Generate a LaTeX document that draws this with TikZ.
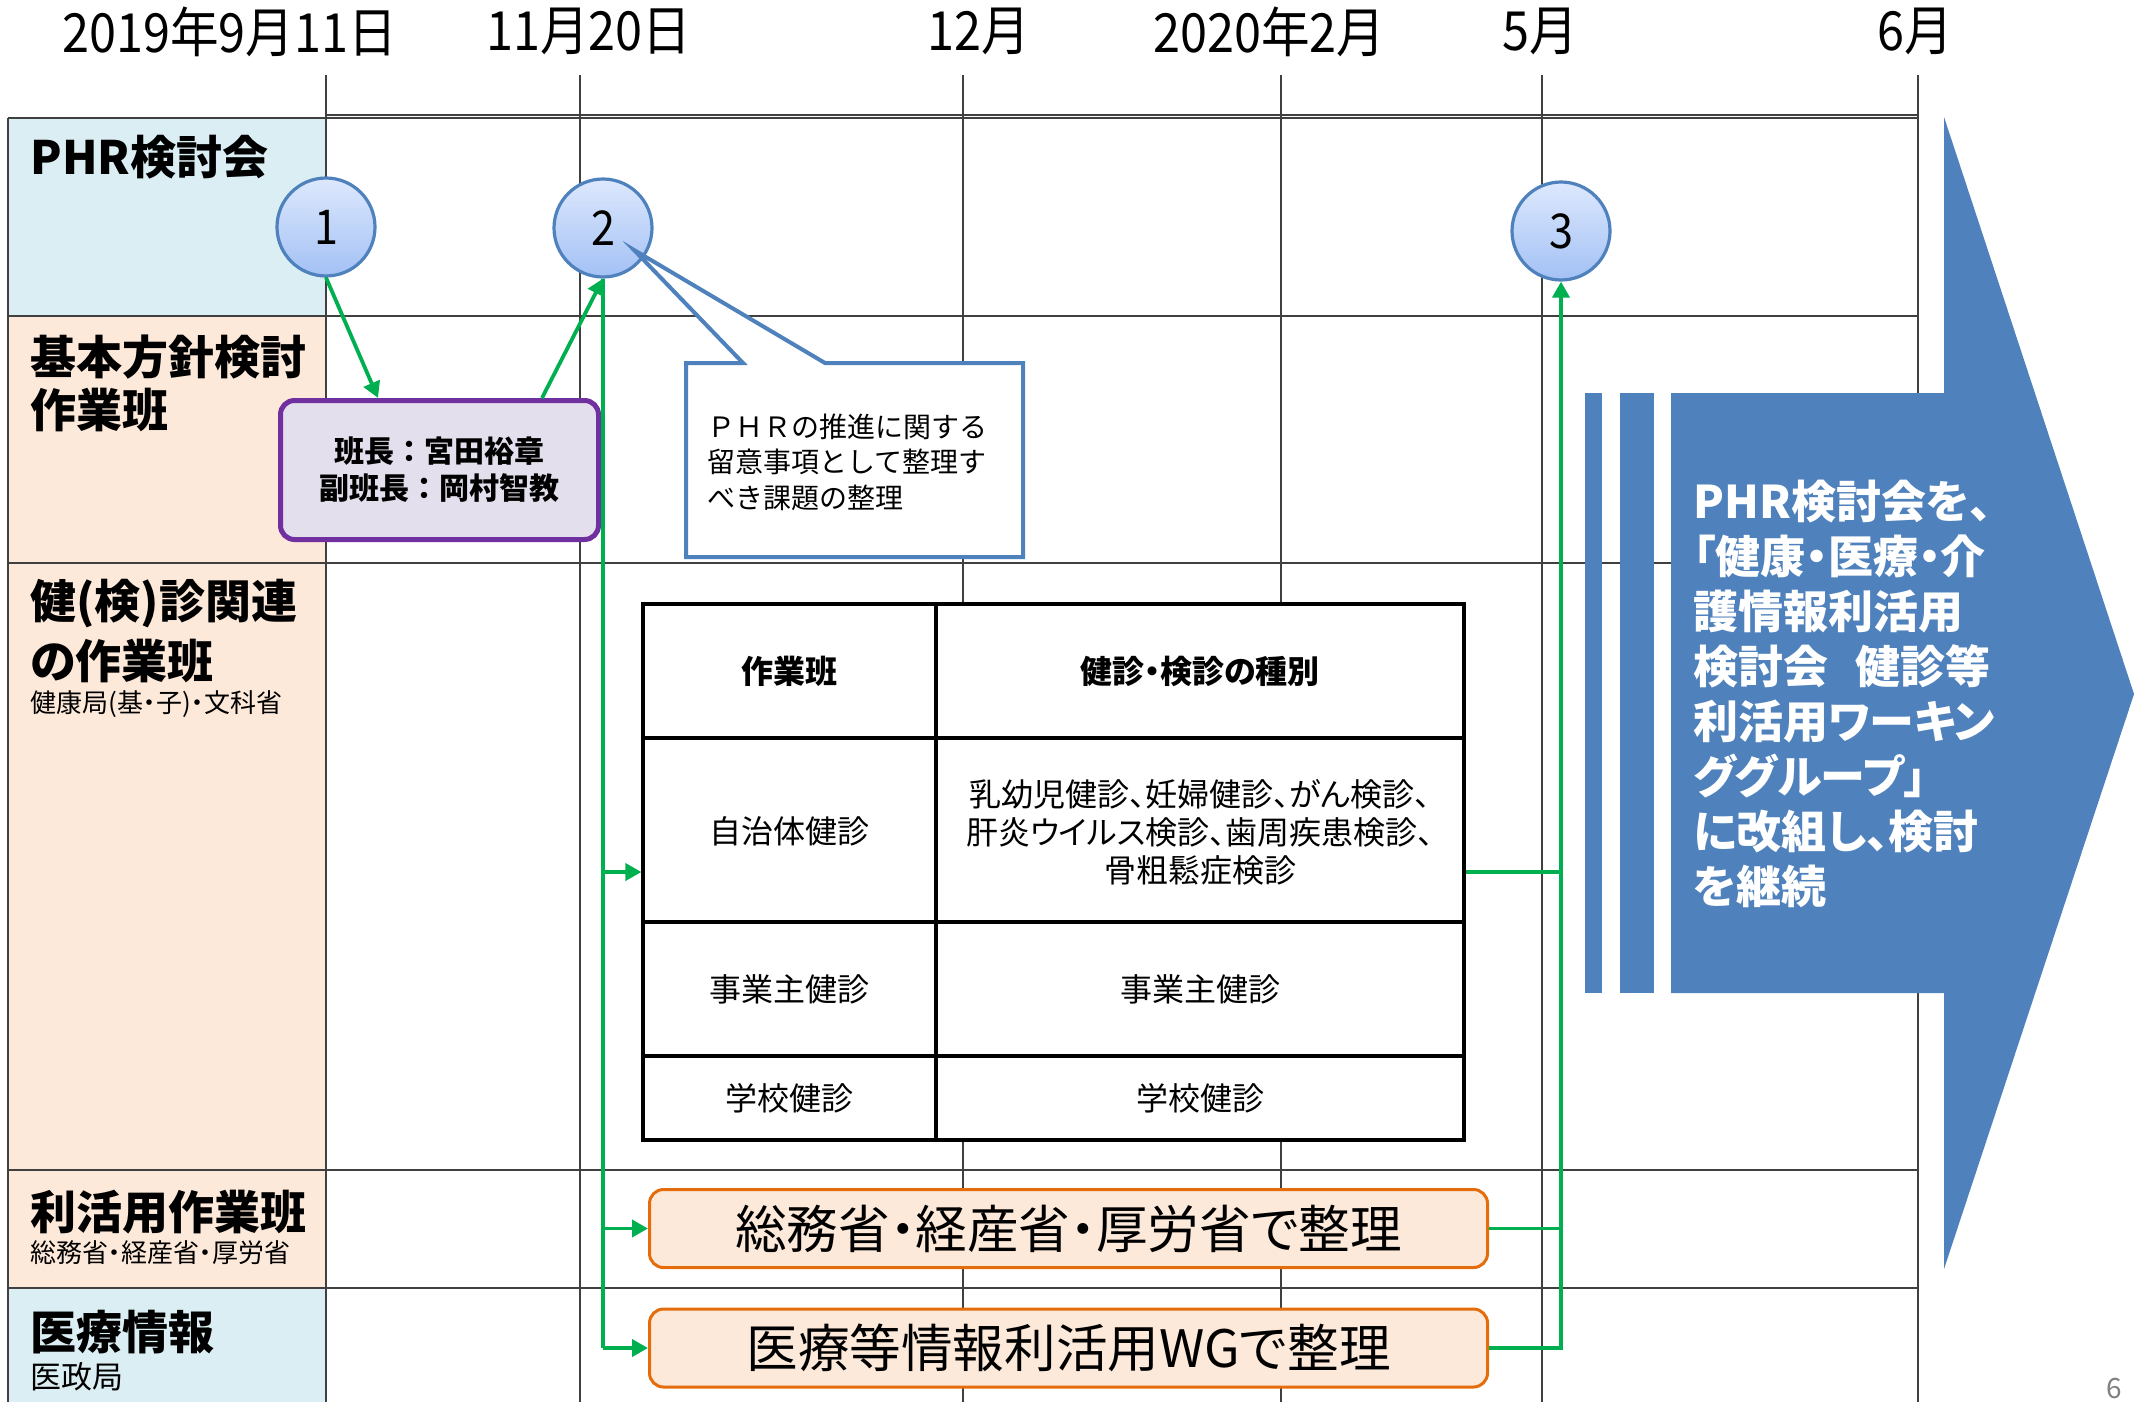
\documentclass[tikz,border=0pt]{standalone}
\usepackage{fontspec}
\setmainfont{Noto Sans CJK JP}[RawFeature=+palt]
\newfontfamily\jpfull{Noto Sans CJK JP}
\newfontfamily\datefont{Noto Sans CJK JP}[FakeStretch=0.9]
\usetikzlibrary{arrows.meta,calc}
\definecolor{lblue}{HTML}{DAEEF3}
\definecolor{peach}{HTML}{FDE9D9}
\definecolor{accblue}{HTML}{4F81BD}
\definecolor{ggreen}{HTML}{00B050}
\definecolor{purp}{HTML}{7030A0}
\definecolor{lav}{HTML}{E4DFEC}
\definecolor{orng}{HTML}{E46C0A}
\definecolor{ctop}{HTML}{DDE8FD}
\definecolor{cbot}{HTML}{A3C1F5}
\definecolor{gridc}{HTML}{404040}
\newcommand\fsz[2]{\fontsize{#1pt}{#2pt}\selectfont}
\tikzset{
  gridline/.style={draw=gridc, line width=0.65pt},
  lbl/.style={anchor=west, inner sep=0pt, font=\bfseries\fsz{23}{27}},
  sublbl/.style={anchor=west, inner sep=0pt, font=\fsz{13}{16}},
  datelbl/.style={inner sep=0pt, font=\datefont\fsz{27}{30}},
  numcircle/.style={circle, minimum size=49pt, inner sep=0pt, draw=accblue, line width=1.6pt, top color=ctop, bottom color=cbot, font=\datefont\fsz{24}{26}},
  gline/.style={draw=ggreen, line width=1.9pt},
  garrow/.style={gline, -{Triangle[length=8pt,width=8.5pt]}},
  cell/.style={inner sep=0pt, font=\fsz{16}{19}, align=center},
  hcell/.style={inner sep=0pt, font=\bfseries\fsz{16}{19}, align=center},
  obox/.style={draw=orng, line width=1.5pt, fill=peach, rounded corners=7pt, minimum width=419pt, minimum height=39pt, inner sep=0pt, font=\fsz{25.8}{28}},
  tblline/.style={draw=black, line width=1.6pt}
}
\begin{document}
\begin{tikzpicture}[x=0.5pt,y=-0.5pt]
\useasboundingbox (0,0) rectangle (2134,1402);
% left column fills
\fill[lblue] (8,118) rectangle (326,316);
\fill[peach] (8,316) rectangle (326,1288);
\fill[lblue] (8,1288) rectangle (326,1402);
% grid
\foreach \x in {326,580,963,1281,1542,1918} \draw[gridline] (\x,75) -- (\x,1402);
\draw[gridline] (326,115) -- (1918,115);
\draw[gridline] (8,118) -- (1918,118);
\foreach \y in {316,563,1170,1288} \draw[gridline] (8,\y) -- (1918,\y);
\draw[gridline] (8,118) -- (8,1402);
% dates
\node[datelbl] (d1) at (229.7,31.5) {2019年9月11日};
\node[datelbl] (d2) at (588.6,31.5) {11月20日};
\node[datelbl] (d3) at (978.6,31.5) {12月};
\node[datelbl] (d4) at (1269.4,31.5) {2020年2月};
\node[datelbl] (d5) at (1540.5,31.5) {5月};
\node[datelbl] (d6) at (1915.7,31.5) {6月};
% left labels
\node[lbl] (l1) at (30,157) {PHR検討会};
\node[lbl] (l2a) at (30,357) {基本方針検討};
\node[lbl] (l2b) at (30,410) {作業班};
\node[lbl] (l3a) at (30,604) {健(検)診関連};
\node[lbl] (l3b) at (30,661) {の作業班};
\node[sublbl] (l3c) at (30,704) {健康局(基・子)・文科省};
\node[lbl] (l4a) at (30,1212) {利活用作業班};
\node[sublbl] (l4b) at (30,1253) {総務省・経産省・厚労省};
\node[lbl] (l5a) at (30,1332) {医療情報};
\node[sublbl, font=\fsz{15.5}{18}] (l5b) at (30,1377) {医政局};
% table
\node[tblline, fill=white, minimum width=410.5pt, minimum height=268pt, inner sep=0pt] (tbl) at (1053.5,872) {};
\draw[tblline] (936,604) -- (936,1140);
\foreach \y in {738,922,1056} \draw[tblline] (643,\y) -- (1464,\y);
\node[hcell] (h1) at (789.5,671) {作業班};
\node[hcell] (h2) at (1200,671) {健診・検診の種別};
\node[cell] (r1a) at (789.5,831) {自治体健診};
\node[cell] (r1b) at (1200,832) {乳幼児健診、妊婦健診、がん検診、\\肝炎ウイルス検診、歯周疾患検診、\\骨粗鬆症検診};
\node[cell] (r2a) at (789.5,989) {事業主健診};
\node[cell] (r2b) at (1200,989) {事業主健診};
\node[cell] (r3a) at (789.5,1098) {学校健診};
\node[cell] (r3b) at (1200,1098) {学校健診};
% purple box
\node[draw=purp, line width=2.5pt, fill=lav, rounded corners=7pt, minimum width=159pt, minimum height=69.5pt, inner sep=0pt, align=center, font=\jpfull\bfseries\fsz{15}{18.5}] (pbox) at (439.5,470) {班長：宮田裕章\\副班長：岡村智教};
% orange boxes
\node[obox] (ob1) at (1068.5,1228.5) {総務省・経産省・厚労省で整理};
\node[obox] (ob2) at (1068.5,1348) {医療等情報利活用WGで整理};
% blue arrow
\fill[accblue] (1585,393) rectangle (1602,993);
\fill[accblue] (1620,393) rectangle (1654,993);
\fill[accblue] (1671,393) -- (1944,393) -- (1944,117) -- (2134,694) -- (1944,1269) -- (1944,993) -- (1671,993) -- cycle;
\node[anchor=west, inner sep=0pt, text=white, align=left, font=\bfseries\fsz{22.5}{27.5}] (bigtxt) at (1693,693.5) {PHR検討会を、\\「健康・医療・介\\護情報利活用\\検討会\hspace{0.6em}健診等\\利活用ワーキン\\ググループ」\\に改組し、検討\\を継続};
% circles
\node[numcircle] (c1) at (326,227) {1};
\node[numcircle] (c2) at (603,228) {2};
\node[numcircle] (c3) at (1561,231) {3};
% green connectors
\draw[garrow] (c1.south) -- ($(pbox.north west)+(100,0)$);
\draw[garrow] ($(pbox.north west)+(264,0)$) -- (c2.south);
\draw[gline] (c2.south) -- (c2.south |- ob2.west);
\draw[garrow] (c2.south |- tbl.west) -- (tbl.west);
\draw[garrow] (c2.south |- ob1.west) -- (ob1.west);
\draw[garrow] (c2.south |- ob2.west) -- (ob2.west);
\draw[gline] (tbl.east) -- (c3.south |- tbl.east);
\draw[gline] (ob1.east) -- (c3.south |- ob1.east);
\draw[garrow, line join=miter] (ob2.east) -- (c3.south |- ob2.east) -- (c3.south);
% callout
\draw[draw=accblue, line width=2pt, fill=white, line join=miter] (686,363) -- (743,363) -- (634,250) -- (825,363) -- (1023,363) -- (1023,557) -- (686,557) -- cycle;
\node[anchor=west, inner sep=0pt, align=left, font=\jpfull\fsz{14}{17.75}] (ctext) at (707,462) {ＰＨＲの推進に関する\\留意事項として整理す\\べき課題の整理};
% page number
\node[text=gray, inner sep=0pt, font=\fsz{14}{16}] (pg) at (2114,1388) {6};
\end{tikzpicture}
\end{document}
